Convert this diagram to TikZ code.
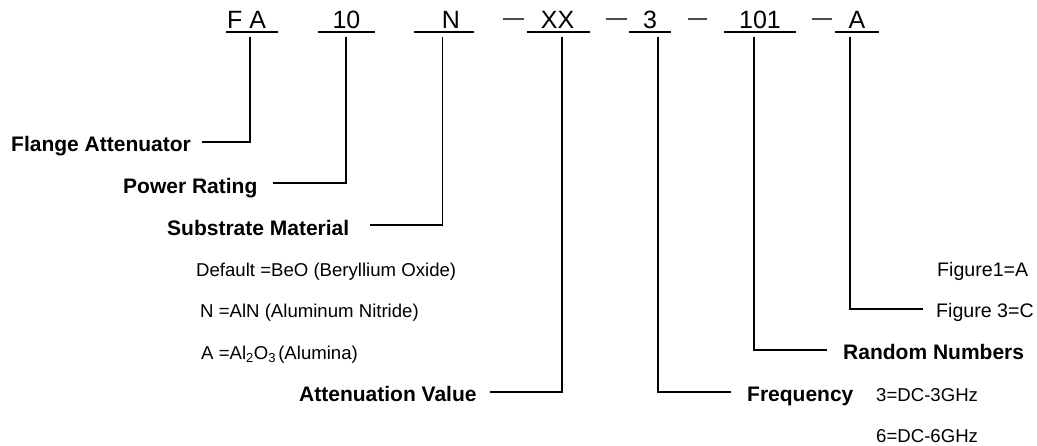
\documentclass[tikz,border=0pt]{standalone}
\usepackage{fontspec}
\setmainfont{Liberation Sans}
\tikzset{
 code/.style={inner sep=0pt,font=\fontsize{25}{27}\selectfont,anchor=base},
 head/.style={inner sep=0pt,font=\fontsize{21}{23}\selectfont\bfseries,anchor=base west},
 note/.style={inner sep=0pt,font=\fontsize{18.6}{20}\selectfont,anchor=base west},
 fignote/.style={inner sep=0pt,font=\fontsize{19.6}{21}\selectfont,anchor=base west},
 conn/.style={draw=black,line width=1.3pt},
 rule/.style={draw=black,line width=1.3pt},
 dashmark/.style={draw=black!70,line width=1.3pt}
}
\begin{document}
\begin{tikzpicture}[x=1pt,y=-1pt]
\useasboundingbox (0,0) rectangle (1037,445);
\node[code] (fa) at (246.5,28.5) {F A};
\node[code] (p10) at (346.5,28.5) {10};
\node[code] (n) at (451,28.5) {N};
\node[code] (xx) at (557.5,28.5) {XX};
\node[code] (three) at (650,28.5) {3};
\node[code] (r101) at (760,28.5) {101};
\node[code] (a) at (857,28.5) {A};
\draw[rule] (226,32)--(278,32) (318,32)--(375,32) (414,32)--(474,32) (527,32)--(590,32) (629,32)--(671,32) (724,32)--(796,32) (835,32)--(879,32);
\draw[dashmark] (503,19)--(524,19) (606,19)--(627,19) (688,19)--(707,19) (812,19)--(832,19);
\node[head] (h1) at (11,151) {Flange Attenuator};
\node[head] (h2) at (123,193) {Power Rating};
\node[head] (h3) at (167,235) {Substrate Material};
\node[head] (h4) at (299,401) {Attenuation Value};
\node[head] (h5) at (747,401) {Frequency};
\node[head] (h6) at (843,359) {Random Numbers};
\node[note] (d1) at (196,276) {Default =BeO (Beryllium Oxide)};
\node[note] (d2) at (200,317) {N =AlN (Aluminum Nitride)};
\node[note] (d3) at (201,359) {A =Al\textsubscript{2}O\textsubscript{3}\hspace{-3pt} (Alumina)};
\node[note] (f1) at (876,401) {3=DC-3GHz};
\node[note] (f2) at (876,442) {6=DC-6GHz};
\node[fignote] (g1) at (937,276) {Figure1=A};
\node[fignote] (g2) at (936,317) {Figure 3=C};
\coordinate (c1) at (202,142); \coordinate (c2) at (273,183); \coordinate (c3) at (370,225);
\coordinate (c4) at (490,392); \coordinate (c5) at (731,392); \coordinate (c6) at (827,350); \coordinate (c7) at (923,309);
\draw[conn] (c1)-|(250,37);
\draw[conn] (c2)-|(346,37);
\draw[conn] (c3)-|(442.5,37);
\draw[conn] (c4)-|(562,37);
\draw[conn] (c5)-|(658,37);
\draw[conn] (c6)-|(754,37);
\draw[conn] (c7)-|(850,37);
\end{tikzpicture}
\end{document}
